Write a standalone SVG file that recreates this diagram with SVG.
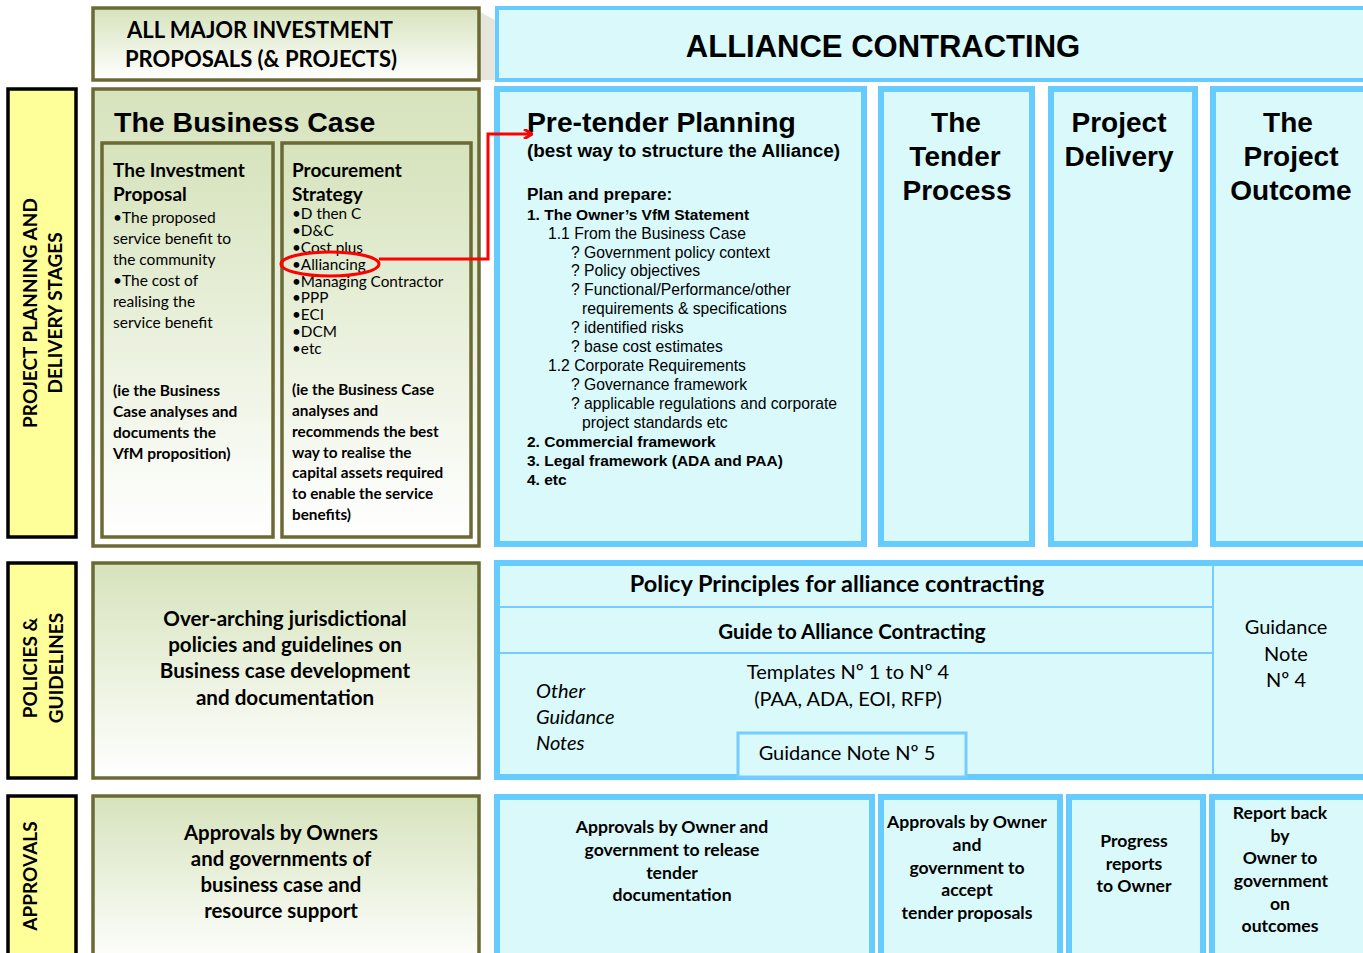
<svg xmlns="http://www.w3.org/2000/svg" width="1363" height="953" viewBox="0 0 1363 953">
<defs>
<linearGradient id="g" x1="0" y1="0" x2="0" y2="1">
<stop offset="0" stop-color="#d6e3bc"/>
<stop offset="1" stop-color="#ffffff"/>
</linearGradient>
<marker id="arr" markerWidth="10" markerHeight="10" refX="8" refY="5" orient="auto" markerUnits="userSpaceOnUse">
<path d="M1,0 L9,5 L1,10" fill="none" stroke="#ff0000" stroke-width="3"/>
</marker>
</defs>
<style>
.gr{fill:url(#g);stroke:#6b6a35;stroke-width:3.5}
.ye{fill:#ffff99;stroke:#000;stroke-width:3.5}
.bl{fill:#d9f9fb;stroke:#66ccff;stroke-width:6}
.bl2{fill:#d9f9fb;stroke:#66ccff;stroke-width:4}
.ln{stroke:#77ccff;stroke-width:2}
.c{font-family:Lato,"Open Sans","Liberation Sans",sans-serif;fill:#000}
.a{font-family:"Liberation Sans",Arial,sans-serif;fill:#000}
.b{font-weight:bold}
.m{text-anchor:middle}
</style>
<rect width="1363" height="953" fill="#fff"/>
<polygon points="480,12 495,20 495,80 480,80" fill="#e6e6dc"/>

<g id="header-left">
<rect class="gr" x="93" y="8" width="386" height="72"/>
<text class="c b" x="127" y="38" font-size="22">ALL MAJOR INVESTMENT</text>
<text class="c b" x="125" y="67" font-size="22">PROPOSALS (&amp; PROJECTS)</text>
</g>
<g id="header-right">
<rect class="bl2" x="497" y="8" width="870" height="72"/>
<text class="a b m" x="883" y="57" font-size="31">ALLIANCE CONTRACTING</text>
</g>

<g id="label-planning">
<rect class="ye" x="8" y="89" width="68" height="448"/>
<text class="c b m" font-size="19" transform="translate(37,313) rotate(-90)">PROJECT PLANNING AND</text>
<text class="c b m" font-size="19" transform="translate(62,313) rotate(-90)">DELIVERY STAGES</text>
</g>
<g id="label-policies">
<rect class="ye" x="8" y="563" width="68" height="215"/>
<text class="c b m" font-size="19" transform="translate(37,668) rotate(-90)">POLICIES &amp;</text>
<text class="c b m" font-size="19" transform="translate(63,668) rotate(-90)">GUIDELINES</text>
</g>
<g id="label-approvals">
<rect class="ye" x="8" y="796" width="68" height="170"/>
<text class="c b m" font-size="19" transform="translate(37,876) rotate(-90)">APPROVALS</text>
</g>

<g id="business-case">
<rect class="gr" x="93" y="89" width="386" height="457"/>
<text class="a b" x="114" y="132" font-size="28.5">The Business Case</text>
</g>
<g id="investment-proposal">
<rect class="gr" x="102" y="143" width="171" height="394"/>
<text class="c b" font-size="19" x="113" y="177">The Investment</text>
<text class="c b" font-size="19" x="113" y="201">Proposal</text>
<g class="c" font-size="15.5">
<text x="113" y="223">•The proposed</text>
<text x="113" y="244">service benefit to</text>
<text x="113" y="265">the community</text>
<text x="113" y="286">•The cost of</text>
<text x="113" y="307">realising the</text>
<text x="113" y="328">service benefit</text>
</g>
<g class="c b" font-size="15.5">
<text x="113" y="396">(ie the Business</text>
<text x="113" y="417">Case analyses and</text>
<text x="113" y="438">documents the</text>
<text x="113" y="459">VfM proposition)</text>
</g>
</g>
<g id="procurement-strategy">
<rect class="gr" x="282" y="143" width="189" height="394"/>
<text class="c b" font-size="19" x="292" y="177">Procurement</text>
<text class="c b" font-size="19" x="292" y="201">Strategy</text>
<g class="c" font-size="15.3">
<text x="292" y="219">•D then C</text>
<text x="292" y="236">•D&amp;C</text>
<text x="292" y="253">•Cost plus</text>
<text x="292" y="270">•Alliancing</text>
<text x="292" y="287">•Managing Contractor</text>
<text x="292" y="303">•PPP</text>
<text x="292" y="320">•ECI</text>
<text x="292" y="337">•DCM</text>
<text x="292" y="354">•etc</text>
</g>
<g class="c b" font-size="15.3">
<text x="292" y="395">(ie the Business Case</text>
<text x="292" y="416">analyses and</text>
<text x="292" y="437">recommends the best</text>
<text x="292" y="458">way to realise the</text>
<text x="292" y="478">capital assets required</text>
<text x="292" y="499">to enable the service</text>
<text x="292" y="520">benefits)</text>
</g>
</g>

<g id="pretender">
<rect class="bl" x="497" y="89" width="367" height="455"/>
<text class="a b" x="527" y="132" font-size="28.3">Pre-tender Planning</text>
<text class="a b" x="527" y="157" font-size="18.9">(best way to structure the Alliance)</text>
<text class="a b" x="527" y="200" font-size="17.2">Plan and prepare:</text>
<g class="a" font-size="15.7">
<text class="b" x="527" y="220" font-size="15.5">1. The Owner’s VfM Statement</text>
<text x="548" y="239">1.1 From the Business Case</text>
<text x="571" y="258">? Government policy context</text>
<text x="571" y="276">? Policy objectives</text>
<text x="571" y="295">? Functional/Performance/other</text>
<text x="582" y="314">requirements &amp; specifications</text>
<text x="571" y="333">? identified risks</text>
<text x="571" y="352">? base cost estimates</text>
<text x="548" y="371">1.2 Corporate Requirements</text>
<text x="571" y="390">? Governance framework</text>
<text x="571" y="409">? applicable regulations and corporate</text>
<text x="582" y="428">project standards etc</text>
<text class="b" x="527" y="447" font-size="15.5">2. Commercial framework</text>
<text class="b" x="527" y="466" font-size="15.5">3. Legal framework (ADA and PAA)</text>
<text class="b" x="527" y="485" font-size="15.5">4. etc</text>
</g>
</g>
<g id="tender">
<rect class="bl" x="881" y="89" width="151" height="455"/>
<g class="a b m" font-size="28">
<text x="956" y="132">The</text>
<text x="955" y="166">Tender</text>
<text x="957" y="200">Process</text>
</g>
</g>
<g id="delivery">
<rect class="bl" x="1051" y="89" width="144" height="455"/>
<g class="a b m" font-size="28">
<text x="1119" y="132">Project</text>
<text x="1119" y="166">Delivery</text>
</g>
</g>
<g id="outcome">
<rect class="bl" x="1213" y="89" width="156" height="455"/>
<g class="a b m" font-size="28">
<text x="1288" y="132">The</text>
<text x="1291" y="166">Project</text>
<text x="1291" y="200">Outcome</text>
</g>
</g>

<g id="overarching">
<rect class="gr" x="93" y="563" width="386" height="215"/>
<g class="c b m" font-size="20.6">
<text x="285" y="626">Over-arching jurisdictional</text>
<text x="285" y="652">policies and guidelines on</text>
<text x="285" y="678">Business case development</text>
<text x="285" y="705">and documentation</text>
</g>
</g>
<g id="policy-block">
<rect class="bl" x="497" y="563" width="870" height="214"/>
<line class="ln" x1="499" y1="607" x2="1212" y2="607"/>
<line class="ln" x1="499" y1="653" x2="1212" y2="653"/>
<line class="ln" x1="1213" y1="565" x2="1213" y2="775"/>
<rect x="738" y="733" width="228" height="44" fill="#d9f9fb" stroke="#77ccff" stroke-width="3"/>
<text class="c b m" x="837" y="592" font-size="23.5">Policy Principles for alliance contracting</text>
<text class="c b m" x="852" y="639" font-size="20.5">Guide to Alliance Contracting</text>
<text class="c m" x="848" y="679" font-size="20">Templates Nº 1 to Nº 4</text>
<text class="c m" x="848" y="706" font-size="20">(PAA, ADA, EOI, RFP)</text>
<g class="c" font-size="20" font-style="italic">
<text x="536" y="698">Other</text>
<text x="536" y="724">Guidance</text>
<text x="536" y="750">Notes</text>
</g>
<text class="c m" x="847" y="760" font-size="20">Guidance Note Nº 5</text>
<g class="c m" font-size="20">
<text x="1286" y="634">Guidance</text>
<text x="1286" y="661">Note</text>
<text x="1286" y="687">Nº 4</text>
</g>
</g>

<g id="approvals-bc">
<rect class="gr" x="93" y="796" width="386" height="170"/>
<g class="c b m" font-size="20.4">
<text x="281" y="840">Approvals by Owners</text>
<text x="281" y="866">and governments of</text>
<text x="281" y="892">business case and</text>
<text x="281" y="918">resource support</text>
</g>
</g>
<g id="approvals-tender-docs">
<rect class="bl" x="497" y="797" width="375" height="170"/>
<g class="c b m" font-size="17.6">
<text x="672" y="833">Approvals by Owner and</text>
<text x="672" y="856">government to release</text>
<text x="672" y="879">tender</text>
<text x="672" y="901">documentation</text>
</g>
</g>
<g id="approvals-tender-proposals">
<rect class="bl" x="881" y="797" width="179" height="170"/>
<g class="c b m" font-size="17.6">
<text x="967" y="828">Approvals by Owner</text>
<text x="967" y="851">and</text>
<text x="967" y="874">government to</text>
<text x="967" y="896">accept</text>
<text x="967" y="919">tender proposals</text>
</g>
</g>
<g id="progress-reports">
<rect class="bl" x="1069" y="797" width="134" height="170"/>
<g class="c b m" font-size="17.6">
<text x="1134" y="847">Progress</text>
<text x="1134" y="870">reports</text>
<text x="1134" y="892">to Owner</text>
</g>
</g>
<g id="report-back">
<rect class="bl" x="1212" y="797" width="157" height="170"/>
<g class="c b m" font-size="17.6">
<text x="1280" y="819">Report back</text>
<text x="1280" y="842">by</text>
<text x="1280" y="864">Owner to</text>
<text x="1281" y="887">government</text>
<text x="1280" y="910">on</text>
<text x="1280" y="932">outcomes</text>
</g>
</g>

<g id="connectors">
<ellipse cx="330" cy="264" rx="49" ry="12" fill="none" stroke="#ff0000" stroke-width="3"/>
<polyline points="379,259 488,259 488,134 531,134" fill="none" stroke="#ff0000" stroke-width="3" marker-end="url(#arr)"/>
</g>
</svg>
